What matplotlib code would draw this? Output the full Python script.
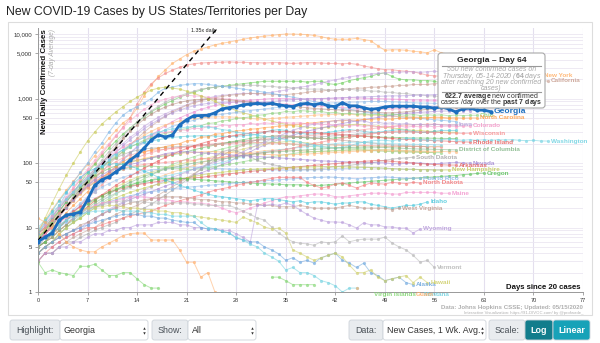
import numpy as np
import matplotlib
matplotlib.use("Agg")
import matplotlib.pyplot as plt
from matplotlib.patches import FancyBboxPatch, Rectangle
from matplotlib.ticker import LogLocator, NullFormatter

plt.rcParams['font.family'] = ['Liberation Sans', 'DejaVu Sans']
plt.rcParams['mathtext.fontset'] = 'custom'
plt.rcParams['mathtext.rm'] = 'Liberation Sans'
plt.rcParams['mathtext.it'] = 'Liberation Sans:italic'
plt.rcParams['mathtext.bf'] = 'Liberation Sans:bold'

nan = np.nan

# 7-day average of new cases, one value per day since 20 cases (day 0 first)
georgia = [6.0, 7.1, 8.2, 13, 15.6, 16.2, 17.4, 27, 45, 55,
           61, 73, 87, 111, 133, 171, 227, 272, 253, 272,
           390, 470, 540, 545, 550, 600, 690, 720, 750, 800,
           820, 840, 820, 840, 800, 770, 750, 820, 840, 800,
           840, 770, 750, 860, 770, 770, 720, 680, 700, 740,
           760, 760, 760, 760, 740, 740, 710, 740, 690, 620,
           690, 710, 660, 660, 623]
new_york = [9, 13, 19, 27, 38, 52, 70, 95, 130, 175,
            240, 320, 420, 500, 710, 1100, 1600, 2200, 2800, 3500,
            4100, 4800, 5400, 5900, 6300, 6800, 7200, 7500, 7900, 8300,
            8700, 9000, 9300, 9500, 9800, 10000, 10000, 9900, 9800, 9500,
            9100, 8600, 8300, 8300, 8300, 8600, 8200, 7900, 6600, 5600,
            5700, 5700, 5600, 5400, 5300, 5100, 5700, 5100, 4900, 4700,
            4400, 4100, 3800, 3500, 3300, 3100, 2900, 2700, 2500, 2400,
            2300, 2240]
new_jersey = [7, 10, 14, 20, 28, 40, 55, 75, 100, 140,
              190, 260, 360, 500, 820, 1250, 1700, 2100, 2450, 2750,
              3050, 3300, 3450, 3550, 3600, 3650, 3650, 3700, 3650, 3650,
              3600, 3600, 3550, 3600, 3600, 3550, 3500, 3550, 3600, 3600,
              3550, 3500, 3500, 3450, 3500, 3400, 3200, 3050, 2900, 2800,
              2800, 2700, 2650, 2600, 2450, 2300, 2250, 2200, 2100, 2000,
              1900, 1800, 1700, 1600]
massachusetts = [8, 10, 14, 18, 25, 35, 50, 70, 95, 130,
                 170, 220, 280, 350, 430, 520, 620, 720, 830, 930,
                 1050, 1150, 1250, 1350, 1450, 1500, 1550, 1600, 1650, 1700,
                 1750, 1800, 1850, 1850, 1850, 1850, 1850, 1850, 1800, 1850,
                 1850, 1700, 1650, 1750, 1900, 2000, 2100, 2200, 2400, 2500,
                 2200, 2000, 1950, 1950, 1900, 1900, 1850, 1750, 1650, 1550,
                 1450, 1400, 1300, 1250, 1200]
illinois = [6, 8, 11, 15, 21, 29, 40, 55, 75, 100,
            130, 165, 200, 250, 300, 370, 440, 510, 580, 650,
            720, 800, 880, 950, 1020, 1080, 1120, 1150, 1180, 1200,
            1200, 1180, 1200, 1250, 1300, 1350, 1450, 1500, 1550, 1650,
            1750, 1850, 1950, 2050, 2150, 2250, 2350, 2400, 2450, 2500,
            2550, 2550, 2600, 2600, 2550, 2600, 2650, 2600, 2550, 2500,
            2500, 2450, 2450, 2400, 2400, 2350]
california = [8, 10, 12, 16, 20, 26, 34, 44, 57, 73,
              95, 120, 150, 190, 240, 300, 370, 450, 530, 620,
              700, 780, 850, 920, 980, 1030, 1080, 1120, 1150, 1180,
              1200, 1200, 1180, 1150, 1150, 1150, 1180, 1200, 1250, 1300,
              1300, 1350, 1350, 1400, 1400, 1450, 1450, 1500, 1500, 1550,
              1550, 1600, 1600, 1650, 1650, 1650, 1700, 1700, 1700, 1750,
              1750, 1750, 1800, 1800, 1800, 1800, 1850, 1850, 1850, 1850,
              1870, 1870, 1870]
pennsylvania = [7, 9, 12, 16, 22, 30, 42, 58, 80, 110,
                150, 200, 260, 340, 430, 530, 640, 760, 880, 1000,
                1100, 1200, 1300, 1400, 1450, 1500, 1550, 1550, 1600, 1600,
                1600, 1600, 1550, 1550, 1500, 1500, 1450, 1450, 1400, 1400,
                1400, 1350, 1350, 1400, 1400, 1350, 1350, 1300, 1300, 1250,
                1250, 1200, 1200, 1150, 1150, 1100, 1100, 1050, 1050, 1000,
                1000, 950]
michigan = [6, 9, 14, 22, 34, 50, 72, 100, 148, 204,
            300, 420, 550, 660, 750, 850, 1000, 1250, 1450, 1500,
            1600, 1650, 1700, 1700, 1650, 1600, 1550, 1500, 1450, 1400,
            1350, 1300, 1250, 1200, 1150, 1100, 1050, 1000, 950, 900,
            850, 800, 750, 700, 680, 650, 620, 600, 580, 560,
            540, 520, 510, 500, 490, 480, 470, 460, 450, 440]
florida = [9, 12, 16, 22, 30, 42, 58, 80, 110, 150,
           200, 270, 350, 450, 560, 680, 800, 900, 980, 1050,
           1100, 1120, 1100, 1080, 1050, 1020, 1000, 980, 950, 930,
           900, 880, 860, 850, 830, 820, 800, 800, 780, 770,
           760, 750, 740, 730, 720, 700, 690, 680, 680, 690,
           700, 700, 710, 720, 730, 730, 740, 740, 750, 750,
           760, 750]
maryland = [5, 6, 8, 10, 13, 17, 22, 30, 40, 55,
            70, 90, 115, 145, 180, 220, 270, 320, 380, 440,
            500, 560, 620, 680, 730, 780, 820, 860, 890, 920,
            940, 960, 980, 1000, 1000, 1000, 990, 980, 980, 990,
            1000, 1000, 1010, 1020, 1030, 1020, 1010, 1000, 1000, 990,
            980, 970, 960, 950, 950, 940, 940, 930, 930, 920, 920]
texas = [6, 8, 11, 15, 20, 27, 36, 48, 64, 85,
         110, 145, 185, 230, 280, 340, 400, 470, 540, 600,
         660, 720, 770, 810, 840, 860, 870, 880, 880, 880,
         870, 870, 880, 900, 920, 940, 960, 980, 1000, 1000,
         1000, 1010, 1020, 1030, 1040, 1050, 1060, 1070, 1080, 1090,
         1100, 1100, 1110, 1120, 1130, 1140, 1150, 1150, 1140, 1130,
         1120, 1110, 1100, 1100, 1110, 1120, 1130]
connecticut = [6, 8, 11, 15, 21, 29, 40, 55, 75, 100,
               135, 180, 240, 310, 390, 480, 570, 660, 740, 810,
               870, 920, 950, 970, 980, 980, 970, 950, 930, 900,
               880, 860, 840, 820, 800, 780, 760, 740, 720, 700,
               690, 680, 670, 660, 650, 640, 630, 620, 610, 600,
               600, 610, 620, 640, 660, 680, 700, 720, 730, 740,
               750, 760]
louisiana = [8, 14, 24, 40, 65, 100, 150, 220, 300, 400,
             500, 620, 750, 900, 1050, 1200, 1350, 1450, 1500, 1450,
             1400, 1300, 1200, 1100, 1000, 900, 800, 720, 650, 600,
             560, 520, 480, 450, 420, 400, 380, 370, 360, 350,
             350, 360, 370, 380, 390, 400, 390, 380, 370, 360,
             350, 340, 330, 320, 320, 310, 310, 300, 300, 300]
virginia = [5, 6, 8, 10, 13, 17, 22, 29, 38, 50,
            65, 85, 110, 140, 175, 210, 250, 290, 330, 370,
            400, 430, 460, 490, 520, 550, 570, 590, 610, 630,
            650, 670, 690, 710, 730, 750, 770, 790, 810, 830,
            840, 850, 860, 870, 880, 880, 890, 900, 900, 900,
            890, 880, 870, 860, 850, 850, 840, 840, 830, 830, 820]
ohio = [7, 9, 12, 16, 21, 28, 38, 50, 66, 85,
        105, 125, 150, 175, 200, 225, 250, 270, 290, 300,
        330, 340, 370, 380, 410, 420, 450, 460, 490, 500,
        520, 550, 560, 590, 600, 630, 620, 650, 640, 620,
        630, 600, 610, 580, 590, 570, 580, 560, 570, 550,
        570, 560, 550, 565, 545, 560, 550, 560, 540, 555,
        545, 550, 550]
north_carolina = [6, 8, 10, 13, 17, 22, 28, 36, 46, 58,
                  72, 88, 105, 120, 135, 150, 160, 170, 180, 190,
                  200, 220, 225, 250, 255, 280, 285, 300, 315, 320,
                  335, 340, 355, 360, 375, 380, 395, 400, 415, 420,
                  435, 440, 455, 450, 465, 460, 475, 470, 485, 480,
                  480, 495, 490, 505, 500, 500, 515, 510, 500, 505,
                  495, 500, 500]
iowa = [4, 5, 5, 6, 7, 8, 9, 11, 13, 16,
        19, 22, 25, 29, 33, 38, 43, 48, 54, 60,
        66, 73, 80, 88, 95, 103, 112, 122, 135, 150,
        170, 190, 210, 235, 260, 290, 320, 350, 380, 400,
        420, 440, 450, 470, 460, 440, 450, 420, 430, 410,
        420, 400, 410, 395, 400, 385, 400, 390, 385, 390]
colorado = [8, 11, 15, 20, 27, 36, 48, 62, 80, 100,
            125, 150, 175, 200, 225, 250, 270, 290, 300, 310,
            330, 320, 350, 340, 370, 360, 390, 380, 395, 390,
            410, 400, 420, 410, 430, 420, 415, 420, 405, 410,
            395, 400, 385, 390, 375, 385, 370, 380, 365, 375,
            365, 375, 360, 370, 365, 375, 365, 370, 372, 368,
            372, 375]
wisconsin = [8, 10, 13, 17, 22, 28, 35, 43, 52, 60,
             68, 75, 82, 88, 92, 95, 98, 100, 102, 105,
             108, 112, 110, 118, 115, 122, 120, 128, 126, 132,
             135, 142, 145, 152, 155, 163, 170, 182, 190, 203,
             210, 222, 230, 242, 250, 262, 270, 282, 290, 302,
             305, 312, 310, 302, 300, 305, 295, 298, 290, 292,
             288, 290]
rhode_island = [5, 6, 7, 9, 11, 14, 17, 21, 26, 32,
                38, 45, 53, 62, 72, 83, 95, 108, 122, 137,
                152, 168, 185, 200, 215, 230, 245, 260, 270, 280,
                290, 300, 305, 315, 305, 310, 300, 305, 295, 300,
                290, 285, 280, 275, 270, 265, 260, 255, 250, 245,
                240, 235, 232, 230, 228, 225, 222, 220, 218, 215,
                213, 211]
washington = [10, 13, 17, 22, 28, 36, 46, 58, 72, 90,
              110, 135, 160, 190, 220, 250, 280, 300, 320, 340,
              350, 360, 370, 370, 360, 350, 330, 320, 300, 290,
              280, 270, 260, 250, 240, 230, 220, 210, 200, 190,
              180, 175, 170, 175, 185, 200, 210, 220, 225, 225,
              220, 230, 240, 240, 230, 230, 225, 230, 235, 230,
              225, 230, 225, 230, 225, 230, 228, 230, 225, 222,
              225, 220, 219]
dist_columbia = [5, 6, 7, 9, 11, 13, 16, 20, 24, 28,
                 33, 38, 44, 50, 56, 62, 68, 74, 80, 85,
                 90, 95, 100, 104, 108, 112, 116, 120, 125, 130,
                 135, 140, 145, 148, 150, 152, 155, 158, 160, 163,
                 165, 168, 170, 172, 174, 175, 176, 176, 175, 174,
                 172, 170, 168, 166, 165, 164, 163, 162, 161, 160]
south_dakota = [3, 4, 4, 5, 6, 6, 7, 8, 9, 10,
                11, 12, 14, 16, 18, 20, 23, 27, 32, 38,
                45, 55, 65, 80, 100, 125, 150, 160, 155, 140,
                125, 110, 100, 95, 90, 85, 82, 80, 80, 80,
                82, 85, 88, 90, 92, 95, 98, 100, 105, 110,
                115, 118, 120, 123]
nevada = [6, 8, 11, 15, 20, 27, 35, 45, 55, 65,
          75, 82, 90, 95, 100, 110, 120, 130, 140, 145,
          150, 150, 148, 145, 142, 140, 138, 135, 132, 130,
          128, 126, 124, 122, 120, 118, 116, 114, 112, 110,
          108, 107, 106, 105, 104, 103, 102, 102, 101, 101,
          98, 97, 99, 101, 100, 98, 97, 99, 101, 102,
          101, 100]
arkansas = [6, 8, 10, 12, 15, 18, 21, 24, 28, 32,
            35, 38, 41, 44, 46, 48, 50, 52, 54, 56,
            57, 58, 59, 60, 62, 64, 66, 68, 70, 72,
            74, 76, 78, 80, 82, 84, 86, 88, 90, 92,
            94, 96, 98, 100, 102, 104, 106, 108, 110, 108,
            106, 104, 102, 100, 98, 96, 95, 94, 93, 93]
new_hampshire = [4, 5, 6, 8, 10, 12, 14, 17, 20, 23,
                 26, 29, 32, 35, 38, 41, 44, 47, 50, 53,
                 56, 59, 62, 65, 68, 70, 72, 74, 76, 78,
                 80, 81, 82, 83, 84, 85, 86, 86, 87, 87,
                 88, 88, 88, 87, 87, 86, 86, 85, 84, 83,
                 82, 81, 80, 80, 79, 79, 78, 78, 78]
oregon = [5, 6, 8, 10, 13, 16, 19, 23, 27, 31,
          35, 39, 43, 46, 49, 52, 54, 56, 57, 58,
          58, 57, 56, 55, 54, 53, 52, 51, 50, 50,
          49, 48, 48, 47, 47, 46, 46, 46, 45, 45,
          45, 46, 47, 48, 49, 50, 51, 52, 53, 54,
          55, 56, 57, 58, 59, 60, 61, 62, 63, 64,
          66, 67, 69, 70]
puerto_rico = [6, 7, 8, 10, 12, 14, 16, 18, 21, 23,
               25, 27, 29, 31, 33, 35, 36, 37, 38, 40,
               41, 42, 43, 44, 45, 46, 47, 48, 49, 50,
               51, 52, 53, 54, 55, 56, 57, 58, 59, 60,
               60, 61, 60, 59, 58, 57, 58, 59, 60, 61,
               60, 59, 58, 58, 58]
north_dakota = [3, 4, 5, 6, 7, 8, 9, 10, 10, 11,
                12, 13, 14, 15, 16, 17, 18, 20, 22, 24,
                26, 28, 30, 32, 35, 38, 40, 42, 45, 48,
                50, 52, 55, 58, 60, 60, 60, 60, 50, 45,
                41, 43, 47, 49, 45, 41, 45, 49, 48, 47,
                50, 49, 48, 50, 49]
maine = [6, 8, 10, 12, 14, 16, 18, 20, 22, 24,
         25, 26, 28, 30, 30, 30, 29, 28, 27, 26,
         25, 25, 24, 24, 23, 22, 20, 18, 17, 18,
         20, 22, 24, 26, 28, 30, 30, 31, 32, 33,
         33, 32, 30, 30, 31, 32, 33, 34, 34, 34,
         33, 33, 35, 35, 35, 35, 35, 34, 34]
idaho = [8, 12, 18, 26, 36, 48, 60, 72, 82, 90,
         95, 98, 95, 90, 82, 75, 68, 60, 55, 50,
         45, 42, 38, 35, 33, 31, 30, 29, 28, 27,
         26, 27, 28, 28, 27, 26, 25, 26, 24, 25,
         25, 24, 23, 24, 24, 25, 25, 23, 22, 21,
         20, 21, 22, 22, 23, 25]
west_virginia = [4, 5, 6, 7, 8, 9, 11, 12, 14, 16,
                 18, 20, 22, 24, 25, 27, 28, 29, 30, 30,
                 30, 29, 28, 27, 27, 26, 25, 25, 24, 24,
                 23, 23, 22, 22, 21, 21, 21, 22, 21, 20,
                 20, 20, 20, 21, 22, 21, 20, 20, 20, 20,
                 19, 20]
wyoming = [3, 4, 4, 5, 5, 6, 6, 7, 8, 8,
           9, 9, 10, 10, 11, 11, 11, 12, 12, 12,
           11, 11, 10, 10, 9.5, 9.5, 9.1, 9, 8, 7,
           6, 22, 22, 23, 22, 24, 22, 18.7, 16, 14,
           13, 12.2, 12.2, 12, 11, 9.8, 11.8, 11, 11, 10.2,
           10.2, 9.8, 9.8, 8.2, 9.5]
vermont = [5, 7, 9, 11, 13, 15, 17, 19, 21, 22,
           24, 25, 26, 26, 25, 25, 24, 24, 24, 24,
           24, 24, 23, 23, 22, 22, 22, 22, 20, 18,
           16, 14, 13, 10.2, 8.2, 6.9, 6.0, 5.7, 5.6, 5.3,
           6.0, 5.8, 6.0, 7.4, 6.0, 6.4, 6.6, 6.6, 6.6, 7.1,
           5.8, 5.0, 4.5, 3.7, 2.9, 3.1, 2.4]
alaska = [4, 5, 6, 7, 8, 9, 10, 11, 12, 13,
          14, 15, 16, 16, 16, 15, 15, 14, 14, 13,
          12.5, 12, 12, 10, 9.5, 9.5, 8.8, 8.2, 6.9, 6.4,
          6.0, 6.0, 5.0, 4.5, 3.9, 3.1, 3.4, 2.9, 3.1, 2.8,
          3.4, 3.7, 4.0, 3.1, 2.8, 2.4, 2.8, 2.0, 1.8, 1.5,
          1.6, 1.7, 1.4, 1.3]
hawaii = [7, 9, 11, 13, 15, 17, 19, 20, 21, 21,
          22, 22, 21, 20, 20, 19, 19, 18, 18, 17,
          17, 16, 15, 14.5, 14, 13.5, 13, 12.5, 12, 14.5,
          13, 11.8, 10.2, 9.5, 9.8, 8.2, 4.5, 4.0, 3.5, 3.1,
          3.4, 3.7, 4.0, 3.5, 2.6, 2.0, 2.0, 2.2, 1.7, 1.5,
          1.6, 1.7, 1.8, 1.4, 1.7, 1.4]
montana = [6, 7, 9, 11, 13, 15, 16, 17, 18, 18,
           19, 19, 18, 18, 18, 17, 17, 16, 16, 15,
           15, 15, 15, 12, 10, 9.5, 8.8, 8.2, 7.0, 6.4,
           5.5, 5.0, 4.0, 3.5, 3.0, 2.2, 2.4, 2.0, 2.0, 1.8,
           1.5, 1.4, 1.25, 1.0, 1.15, 1.15, nan, nan, nan, nan,
           nan, nan, nan, nan, 0.92]
guam = [14, 12, 10, 8, 6, 5, 4.5, 4.2, 4.2, 5.0,
        5.7, 6.5, 7.5, 8.0, 8.2, 8.2, 6.4, 6.4, 6.4, 6.4,
        4.5, 2.9, 2.9, 1.7, 2.0, 1.0, nan, nan, nan, nan,
        nan, nan, nan, nan, nan, nan, nan, nan, nan, nan,
        nan, nan, nan, nan, nan, 1.15, nan, nan, nan, nan,
        nan, nan, nan, 0.93]
virgin_islands = [2.9, 2.0, 2.2, 2.0, 1.9, 1.8, 2.5, 2.5, 2.7, 2.2,
                  1.8, 1.8, 2.0, 2.0, 1.6, 1.3, 1.15, 1.15, nan, nan,
                  nan, nan, nan, nan, nan, nan, nan, nan, nan, nan,
                  nan, nan, nan, 1.7, 1.7, 1.5, 1.3, 1.3, 1.3, 1.3,
                  nan, nan, nan, nan, nan, nan, nan, 0.93]
indiana = [7, 9, 12, 16, 21, 28, 37, 49, 64, 82,
           105, 130, 160, 195, 230, 270, 310, 350, 390, 420,
           450, 470, 490, 500, 510, 520, 520, 520, 510, 500,
           490, 480, 480, 490, 500, 510, 520, 530, 540, 550,
           560, 560, 570, 570, 570, 560, 560, 550, 550, 540,
           530, 530, 520, 520, 510, 510, 500, 500, 490, 480]
minnesota = [4, 5, 6, 7, 8, 9, 10, 12, 14, 16,
             18, 21, 24, 27, 30, 33, 36, 40, 44, 48,
             53, 58, 64, 70, 77, 85, 95, 105, 120, 135,
             150, 170, 190, 210, 230, 250, 270, 290, 310, 330,
             350, 370, 390, 410, 430, 450, 470, 490, 510, 530,
             550, 570, 590, 600, 610, 620, 630, 640, 640, 650,
             650, 650]
tennessee = [8, 11, 15, 20, 27, 36, 48, 62, 80, 100,
             120, 140, 160, 180, 195, 210, 220, 230, 240, 250,
             255, 260, 262, 265, 265, 262, 260, 258, 260, 265,
             270, 280, 300, 320, 330, 320, 300, 290, 280, 285,
             290, 300, 310, 320, 330, 320, 310, 300, 300, 310,
             320, 330, 320, 310, 300, 300, 310, 320, 320, 320]
arizona = [5, 6, 8, 10, 13, 17, 22, 28, 36, 46,
           58, 72, 88, 105, 120, 135, 145, 155, 165, 170,
           175, 180, 185, 190, 195, 200, 205, 210, 215, 220,
           225, 230, 235, 240, 245, 250, 255, 260, 265, 270,
           275, 280, 290, 300, 310, 320, 330, 340, 350, 360,
           370, 380, 390, 390, 395, 400, 400, 395, 390, 390]
alabama = [6, 9, 13, 18, 25, 34, 45, 58, 72, 88,
           105, 120, 135, 148, 158, 165, 170, 172, 175, 178,
           180, 182, 185, 188, 190, 195, 200, 205, 210, 215,
           220, 225, 230, 235, 240, 245, 250, 250, 250, 250,
           255, 260, 265, 270, 275, 280, 285, 290, 295, 300,
           300, 300, 305, 305, 300, 300, 300, 300]
mississippi = [6, 9, 13, 18, 25, 33, 42, 52, 62, 72,
               82, 90, 98, 105, 110, 115, 120, 125, 130, 135,
               140, 150, 160, 170, 180, 190, 200, 210, 220, 230,
               240, 250, 255, 260, 262, 260, 255, 250, 245, 240,
               240, 240, 245, 250, 255, 260, 262, 260, 255, 250,
               250, 248, 246, 245, 244, 243, 242, 241, 240, 240]
delaware = [4, 5, 6, 8, 10, 12, 14, 17, 20, 24,
            28, 33, 38, 44, 50, 57, 65, 74, 84, 95,
            105, 115, 125, 135, 145, 155, 165, 175, 185, 195,
            200, 205, 210, 210, 205, 200, 195, 190, 185, 180,
            178, 176, 174, 172, 170, 168, 166, 164, 162, 160,
            158, 156, 154, 152, 150, 150]
kentucky = [5, 6, 7, 9, 11, 14, 17, 21, 26, 31,
            36, 42, 48, 54, 60, 66, 72, 78, 84, 90,
            96, 102, 108, 114, 120, 128, 136, 145, 155, 165,
            175, 185, 195, 205, 210, 215, 215, 210, 205, 200,
            195, 192, 190, 188, 186, 185, 184, 183, 182, 181,
            180, 178, 182, 179, 181, 178, 180, 182]
missouri = [6, 8, 11, 15, 20, 27, 36, 47, 60, 75,
            90, 105, 120, 132, 142, 150, 156, 160, 164, 168,
            172, 176, 180, 184, 188, 192, 196, 200, 204, 206,
            208, 208, 206, 204, 202, 200, 198, 196, 195, 194,
            193, 192, 191, 190, 189, 188, 187, 186, 185, 184,
            183, 182, 181, 180, 180, 179, 178, 178]
nebraska = [3, 4, 4, 5, 6, 7, 8, 9, 10, 12,
            14, 16, 18, 20, 22, 25, 28, 32, 37, 43,
            50, 58, 68, 80, 95, 110, 130, 150, 170, 190,
            210, 230, 250, 260, 265, 265, 260, 255, 250, 245,
            240, 235, 230, 225, 220, 215, 210, 205, 200, 195,
            190, 188, 186, 184, 182, 180]
oklahoma = [5, 7, 9, 12, 15, 19, 24, 30, 36, 42,
            48, 54, 60, 65, 70, 74, 78, 80, 82, 84,
            85, 86, 86, 85, 84, 83, 82, 81, 80, 80,
            79, 79, 78, 78, 78, 77, 77, 77, 78, 78,
            79, 80, 81, 82, 83, 84, 85, 85, 84, 83,
            82, 81, 80, 80, 79, 79, 78, 78]
new_mexico = [4, 5, 6, 8, 10, 12, 15, 18, 22, 26,
              30, 34, 38, 42, 46, 50, 55, 60, 66, 72,
              78, 85, 92, 100, 108, 115, 122, 128, 134, 140,
              145, 150, 155, 158, 160, 160, 158, 155, 152, 150,
              150, 152, 154, 156, 158, 160, 160, 158, 156, 154,
              152, 150, 150, 148, 148, 146, 146]
utah = [7, 9, 12, 16, 21, 27, 34, 42, 50, 58,
        66, 73, 80, 85, 88, 90, 90, 88, 86, 84,
        82, 80, 80, 82, 85, 88, 92, 96, 100, 105,
        110, 115, 120, 125, 130, 135, 140, 145, 148, 150,
        152, 154, 156, 158, 160, 160, 158, 156, 154, 152,
        150, 150, 148, 148, 146, 146, 145, 145]
kansas = [4, 5, 6, 8, 10, 12, 15, 18, 22, 26,
          30, 34, 38, 42, 46, 50, 54, 58, 62, 66,
          70, 75, 80, 85, 90, 96, 102, 110, 118, 126,
          135, 145, 150, 155, 160, 165, 170, 175, 180, 185,
          190, 195, 200, 205, 210, 210, 208, 206, 204, 202,
          200, 198, 196, 195, 194, 193, 192, 190]
south_carolina = [6, 8, 11, 15, 20, 26, 33, 41, 50, 60,
                  70, 80, 90, 100, 110, 118, 125, 130, 135, 140,
                  142, 144, 146, 148, 150, 150, 148, 146, 144, 142,
                  140, 138, 136, 135, 134, 134, 135, 136, 138, 140,
                  142, 144, 146, 148, 150, 152, 154, 156, 158, 160,
                  160, 158, 156, 155, 154, 153, 152, 151, 150, 150]

# 1.35x daily growth guide: start and end of the dashed line
ref_days = [0, 26]
ref_vals = [6.3, 15000]

ytick_vals = [1, 5, 10, 50, 100, 500, 1000, 5000, 10000]
ytick_text = ["1", "5", "10", "50", "100", "500", "1,000", "5,000", "10,000"]
xtick_vals = list(range(0, 78, 7))

# name, values, colour, draw end label
series = [
    ("New York", new_york, "#ffb26b", True),
    ("New Jersey", new_jersey, "#f28e8c", False),
    ("Massachusetts", massachusetts, "#6fcf5f", True),
    ("Illinois", illinois, "#c2a5dd", False),
    ("California", california, "#c9a092", True),
    ("Pennsylvania", pennsylvania, "#b5b5b5", False),
    ("Michigan", michigan, "#7fb6e6", False),
    ("Florida", florida, "#f4a6cf", False),
    ("Maryland", maryland, "#e98bd0", False),
    ("Texas", texas, "#b39ddb", False),
    ("Connecticut", connecticut, "#b58d7f", False),
    ("Louisiana", louisiana, "#c9ca55", False),
    ("Virginia", virginia, "#8fbde8", False),
    ("Indiana", indiana, "#ffbd80", False),
    ("Minnesota", minnesota, "#a88bd2", False),
    ("Tennessee", tennessee, "#52c6d6", False),
    ("Arizona", arizona, "#f59999", False),
    ("Alabama", alabama, "#a6a6a6", False),
    ("Mississippi", mississippi, "#6fbf6f", False),
    ("Delaware", delaware, "#9ad98e", False),
    ("Kentucky", kentucky, "#d3d37a", False),
    ("Missouri", missouri, "#f59c9c", False),
    ("Nebraska", nebraska, "#c3a296", False),
    ("Oklahoma", oklahoma, "#9bc1ea", False),
    ("New Mexico", new_mexico, "#ffc48a", False),
    ("Utah", utah, "#8fd383", False),
    ("Kansas", kansas, "#8fd9e6", False),
    ("South Carolina", south_carolina, "#ffb77a", False),
    ("Ohio", ohio, "#8fd37f", True),
    ("North Carolina", north_carolina, "#ff9f4a", True),
    ("Iowa", iowa, "#b7a3d9", True),
    ("Colorado", colorado, "#f49ac8", True),
    ("Wisconsin", wisconsin, "#f78f8f", True),
    ("Rhode Island", rhode_island, "#e86464", True),
    ("Washington", washington, "#74d3e2", True),
    ("District of Columbia", dist_columbia, "#86b88a", True),
    ("South Dakota", south_dakota, "#a9a9a9", True),
    ("Nevada", nevada, "#a48ad3", True),
    ("Arkansas", arkansas, "#e36464", True),
    ("New Hampshire", new_hampshire, "#c4cc5c", True),
    ("Oregon", oregon, "#5fc35f", True),
    ("Puerto Rico", puerto_rico, "#8cb9e8", True),
    ("North Dakota", north_dakota, "#f27c7c", True),
    ("Maine", maine, "#f39ad0", True),
    ("Idaho", idaho, "#4fc9dc", True),
    ("West Virginia", west_virginia, "#c09c8e", True),
    ("Wyoming", wyoming, "#b99ddb", True),
    ("Vermont", vermont, "#b8b8b8", True),
    ("Alaska", alaska, "#6fa8de", True),
    ("Hawaii", hawaii, "#cfcf6a", True),
    ("Montana", montana, "#72d2e0", True),
    ("Guam", guam, "#ffae6a", True),
    ("Virgin Islands", virgin_islands, "#82d672", True),
]

W, H = 600, 343
fig = plt.figure(figsize=(6, 3.43), dpi=100)

# pixel-space background layer (frame, title, widgets)
bg = fig.add_axes([0, 0, 1, 1], zorder=0)
bg.set_xlim(0, W)
bg.set_ylim(H, 0)
bg.axis('off')

bg.text(6, 15.5, "New COVID-19 Cases by US States/Territories per Day",
        fontsize=8.8, color="#222", va="baseline", ha="left")
bg.add_patch(Rectangle((8, 22), 584, 293, fill=False, ec="#dddddd", lw=0.8))


def widget(x0, x1, text, fill, tcolor, bold=False, center=True):
    bg.add_patch(FancyBboxPatch((x0, 320), x1 - x0, 20,
                                boxstyle="round,pad=0,rounding_size=2.5",
                                fc=fill, ec="#ced4da", lw=0.6))
    if center:
        bg.text((x0 + x1) / 2, 330.5, text, fontsize=6.4, color=tcolor,
                ha="center", va="center", weight="bold" if bold else "normal")
    else:
        bg.text(x0 + 4, 330.5, text, fontsize=6.4, color=tcolor,
                ha="left", va="center")


def arrows(x):
    bg.plot([x], [327.8], marker="^", ms=1.8, color="#333", mec="none")
    bg.plot([x], [332.8], marker="v", ms=1.8, color="#333", mec="none")


widget(10, 60, "Highlight:", "#e9ecef", "#495057")
widget(60, 148, "Georgia", "white", "#333", center=False)
arrows(144)
widget(152, 188, "Show:", "#e9ecef", "#495057")
widget(188, 256, "All", "white", "#333", center=False)
arrows(252)
widget(349, 383, "Data:", "#e9ecef", "#495057")
widget(383, 486, "New Cases, 1 Wk. Avg.", "white", "#333", center=False)
arrows(482)
widget(489, 525, "Scale:", "#e9ecef", "#495057")
widget(525, 553, "Log", "#127d8c", "white", bold=True)
widget(553, 590, "Linear", "#17a2b8", "white", bold=True)

# chart axes
ax = fig.add_axes([38 / W, 1 - 292 / H, 545 / W, 264 / H], zorder=1)
ax.patch.set_alpha(0)
ax.set_yscale('log')
ax.set_xlim(0, 77)
ax.set_ylim(1, 12400)
ax.set_axisbelow(True)

ax.set_yticks(ytick_vals)
ax.set_yticklabels(ytick_text)
ax.yaxis.set_minor_locator(LogLocator(base=10, subs=np.arange(2, 10)))
ax.yaxis.set_minor_formatter(NullFormatter())
ax.set_xticks(xtick_vals)
ax.tick_params(axis='y', which='minor', length=0)
ax.tick_params(axis='y', which='major', labelsize=4.4, length=2.5, width=0.6,
               color="#999", labelcolor="#333", pad=1.5)
ax.tick_params(axis='x', which='major', labelsize=4.0, length=2.5, width=0.6,
               color="#999", labelcolor="#333", pad=1.5)
ax.grid(True, which='major', axis='x', color="#e4dfee", lw=0.8)
ax.grid(True, which='both', axis='y', color="#ebe7f1", lw=0.6)
for s in ['top', 'right']:
    ax.spines[s].set_visible(False)
for s in ['left', 'bottom']:
    ax.spines[s].set_color("#999")
    ax.spines[s].set_linewidth(0.7)

for name, vals, color, show_label in series:
    v = np.array(vals, dtype=float)
    d = np.arange(len(v))
    ax.plot(d, v, '-', color=color, lw=0.7, alpha=0.55, zorder=2)
    ax.plot(d, v, 'o', color=color, ms=2.3, mec='none', alpha=0.65, zorder=2)
    if show_label:
        last = np.where(~np.isnan(v))[0][-1]
        ax.annotate(name, (d[last], v[last]), xytext=(2.2, 0),
                    textcoords='offset points', va='center', ha='left',
                    fontsize=4.6, fontweight='bold', color=color, alpha=0.9,
                    annotation_clip=False, zorder=3)

ax.plot(ref_days, ref_vals, color="black", lw=1.0,
        linestyle=(0, (3.5, 3)), zorder=4)
ax.text(25.3, 11300, "1.35x daily", fontsize=3.8, ha="right", va="center",
        color="#222")

gd = np.arange(len(georgia))
ax.plot(gd, georgia, '-o', color="#1d6fbf", lw=2.0, ms=3.0, mec='none',
        zorder=6)
ax.annotate("Georgia", (gd[-1], georgia[-1]), xytext=(2.2, 0),
            textcoords='offset points', va='center', ha='left', fontsize=6.1,
            fontweight='bold', color="#1d6fbf", annotation_clip=False, zorder=6)

# overlay layer: axis titles, credits, tooltip
top = fig.add_axes([0, 0, 1, 1], zorder=5)
top.set_xlim(0, W)
top.set_ylim(H, 0)
top.axis('off')

top.text(44, 29, "New Daily Confirmed Cases", rotation=90, fontsize=5.7,
         weight="bold", color="#111", ha="center", va="top")
top.text(52, 29, "(7-day Average)", rotation=90, fontsize=4.8,
         style="italic", color="#aaa", ha="center", va="top")
top.text(581, 287.5, "Days since 20 cases", fontsize=5.6, weight="bold",
         color="#111", ha="right", va="center")
top.text(583, 307, "Data: Johns Hopkins CSSE; Updated: 05/15/2020",
         fontsize=4.4, weight="bold", color="#b0b0b0", ha="right", va="center")
top.text(583, 313.2,
         "Interactive Visualization: https://91-DIVOC.com/ by @profwade_",
         fontsize=3.1, color="#b0b0b0", ha="right", va="center")

top.add_patch(FancyBboxPatch((438, 53), 107, 55,
                             boxstyle="round,pad=0,rounding_size=3",
                             fc="white", ec="#a8a8a8", lw=0.8))
cx = 491.5
top.text(cx, 60.5, "Georgia \u2013 Day 64", fontsize=6.1, weight="bold",
         color="#222", ha="center", va="center")
top.plot([442, 541], [65.5, 65.5], color="#999", lw=0.8)
top.text(cx, 69.5, "550 new confirmed cases on", fontsize=5.0,
         style="italic", color="#a8a8a8", ha="center", va="center")
top.text(cx, 76, r"Thursday, 05-14-2020 ($\mathbf{64}$ days", fontsize=5.0,
         style="italic", color="#a8a8a8", ha="center", va="center")
top.text(cx, 82.5, "after reaching 20 new confirmed", fontsize=5.0,
         style="italic", color="#a8a8a8", ha="center", va="center")
top.text(cx, 88.5, "cases)", fontsize=5.0, style="italic", color="#a8a8a8",
         ha="center", va="center")
top.plot([442, 541], [91.8, 91.8], color="#999", lw=0.8)
top.text(cx, 96, r"$\mathbf{622.7\ average}$ new confirmed", fontsize=5.0,
         color="#333", ha="center", va="center")
top.text(cx, 102.5, r"cases /day over the $\mathbf{past\ 7\ days}$",
         fontsize=5.0, color="#333", ha="center", va="center")

fig.savefig("out.png", dpi=100)
